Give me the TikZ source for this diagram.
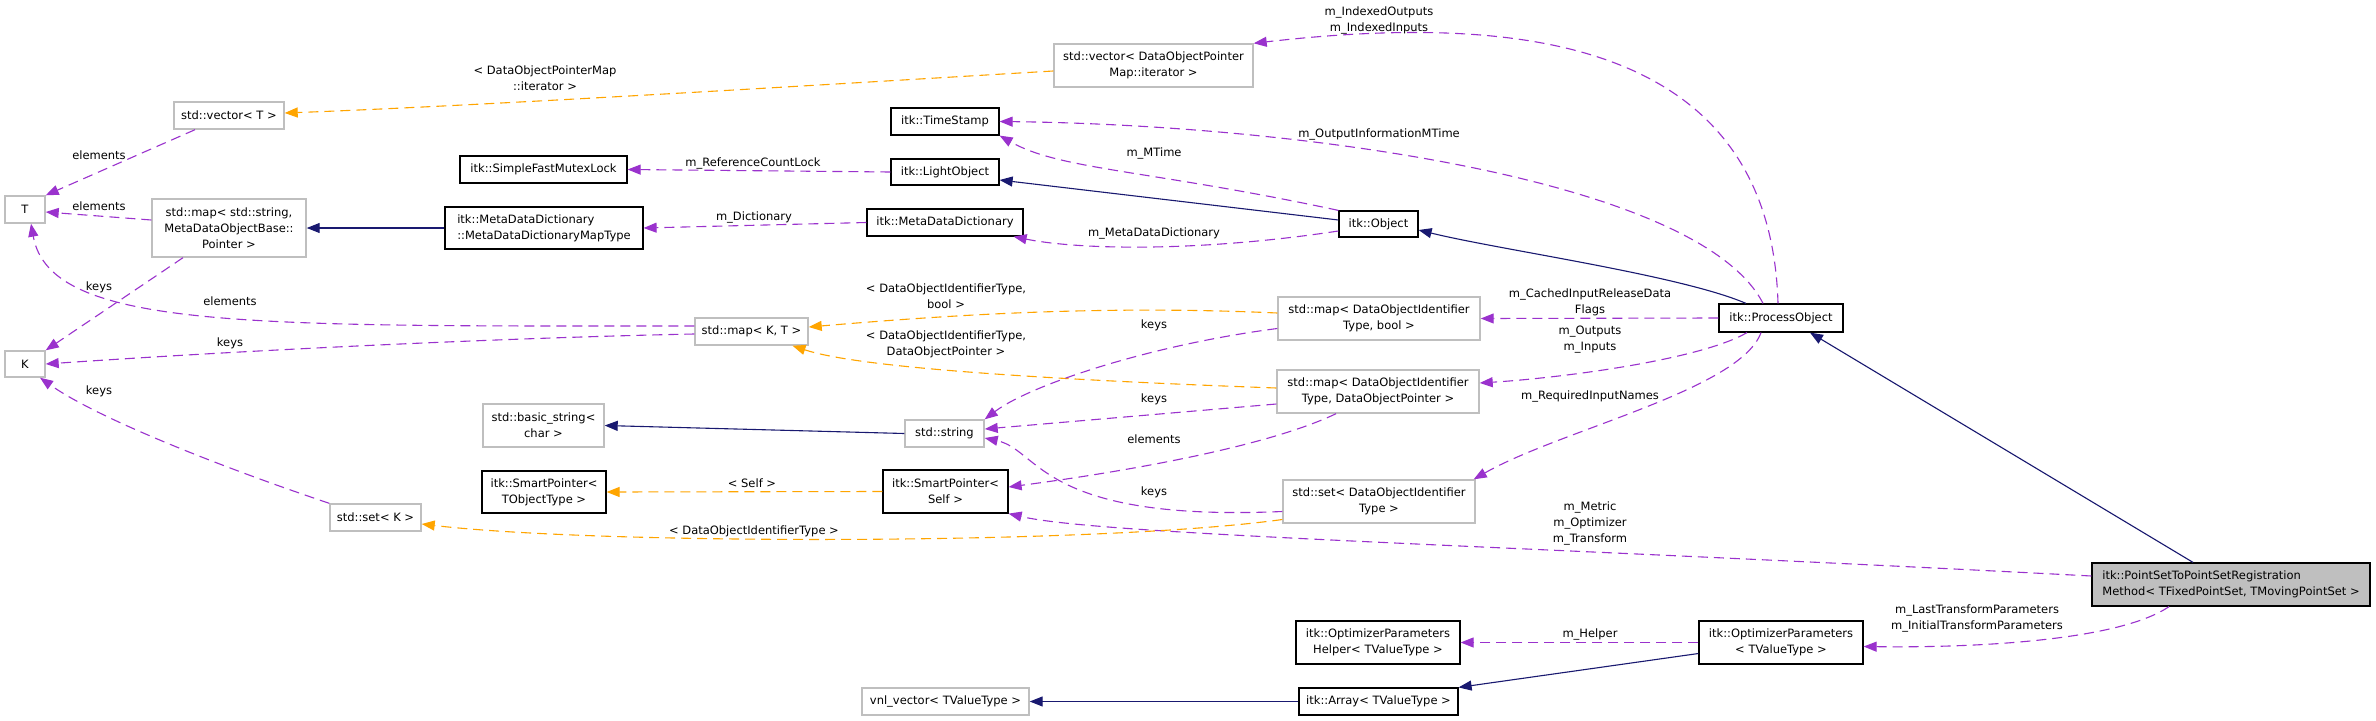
\documentclass[tikz,border=0pt]{standalone}
\usepackage{fontspec}
\setmainfont{DejaVu Sans}
\usetikzlibrary{arrows.meta}
\definecolor{pur}{HTML}{9A32CD}
\definecolor{org}{HTML}{FFA500}
\definecolor{nav}{HTML}{191970}
\definecolor{gry}{HTML}{BFBFBF}
\newcommand\dfnt{\fontsize{11.5}{16}\selectfont}
\tikzset{
  box/.style={draw=black, line width=1.2pt, fill=white, inner sep=0pt, align=center, font=\dfnt},
  gbox/.style={box, draw=gry, line width=1.4pt},
  lbl/.style={inner sep=0pt, align=center, font=\dfnt},
  tip/.style={-{Triangle[length=13pt,width=10pt]}},
  pe/.style={draw=pur, line width=1.1pt, dash pattern=on 10pt off 6pt, tip, pur},
  oe/.style={draw=org, line width=1.1pt, dash pattern=on 10pt off 6pt, tip, org},
  ne/.style={draw=nav, line width=1.1pt, tip, nav},
}
\begin{document}
\begin{tikzpicture}[x=1pt,y=-1pt]
\fill[white] (0,0) rectangle (2376,720);
\useasboundingbox (0,0) rectangle (2376,720);
% nodes
\node[gbox, minimum width=110, minimum height=27] (vecT) at (229,115.5) {std::vector< T >};
\node[box, minimum width=167, minimum height=27] (sfml) at (543.5,169.5) {itk::SimpleFastMutexLock};
\node[gbox, minimum width=40, minimum height=27] (T) at (25,209.5) {T};
\node[gbox, minimum width=154, minimum height=58] (mapstr) at (229,228) {std::map< std::string,\\MetaDataObjectBase::\\Pointer >};
\node[box, minimum width=198, minimum height=42, align=left] (mdmt) at (544,228) {itk::MetaDataDictionary\\::MetaDataDictionaryMapType};
\node[gbox, minimum width=40, minimum height=26] (K) at (25,364) {K};
\node[gbox, minimum width=91, minimum height=27] (setK) at (375.5,517.5) {std::set< K >};
\node[gbox, minimum width=121, minimum height=43] (bstr) at (543.5,425.5) {std::basic\_string<\\char >};
\node[box, minimum width=124, minimum height=42] (spT) at (544,492) {itk::SmartPointer<\\TObjectType >};
\node[gbox, minimum width=199, minimum height=43] (vecD) at (1153.5,65.5) {std::vector< DataObjectPointer\\Map::iterator >};
\node[box, minimum width=108, minimum height=27] (ts) at (945,121.5) {itk::TimeStamp};
\node[box, minimum width=108, minimum height=26] (lo) at (945,172) {itk::LightObject};
\node[box, minimum width=156, minimum height=27] (mdd) at (945,222.5) {itk::MetaDataDictionary};
\node[gbox, minimum width=113, minimum height=27] (mapKT) at (751.5,331.5) {std::map< K, T >};
\node[box, minimum width=79, minimum height=26] (obj) at (1378.5,224) {itk::Object};
\node[box, minimum width=124, minimum height=28] (po) at (1781,318) {itk::ProcessObject};
\node[gbox, minimum width=202, minimum height=43] (mapB) at (1379,318.5) {std::map< DataObjectIdentifier\\Type, bool >};
\node[gbox, minimum width=202, minimum height=43] (mapP) at (1378,391.5) {std::map< DataObjectIdentifier\\Type, DataObjectPointer >};
\node[gbox, minimum width=79, minimum height=27] (str) at (944.5,433.5) {std::string};
\node[box, minimum width=125, minimum height=43] (spS) at (945.5,491.5) {itk::SmartPointer<\\Self >};
\node[gbox, minimum width=192, minimum height=43] (setD) at (1379,501.5) {std::set< DataObjectIdentifier\\Type >};
\node[gbox, minimum width=167, minimum height=27] (vnl) at (945.5,701.5) {vnl\_vector< TValueType >};
\node[box, minimum width=164, minimum height=43] (oph) at (1378,642.5) {itk::OptimizerParameters\\Helper< TValueType >};
\node[box, minimum width=164, minimum height=43] (op) at (1781,642.5) {itk::OptimizerParameters\\< TValueType >};
\node[box, minimum width=159, minimum height=27] (arr) at (1378.5,701.5) {itk::Array< TValueType >};
\node[box, fill=gry, minimum width=278, minimum height=43, align=left] (psr) at (2231,584.5) {itk::PointSetToPointSetRegistration\\Method< TFixedPointSet, TMovingPointSet >};
% labels
\node[lbl] (l1) at (99,155) {elements};
\node[lbl] (l2) at (99,206) {elements};
\node[lbl] (l3) at (230,301) {elements};
\node[lbl] (l4) at (99,287) {keys};
\node[lbl] (l5) at (230,343) {keys};
\node[lbl] (l6) at (99,391) {keys};
\node[lbl] (l7) at (545,78.7) {< DataObjectPointerMap\\::iterator >};
\node[lbl] (l8) at (753,163) {m\_ReferenceCountLock};
\node[lbl] (l9) at (754,217) {m\_Dictionary};
\node[lbl] (l10) at (1154,153) {m\_MTime};
\node[lbl] (l11) at (1154,233) {m\_MetaDataDictionary};
\node[lbl] (l12) at (1379,134.7) {m\_OutputInformationMTime};
\node[lbl] (l13) at (1379,20.7) {m\_IndexedOutputs\\m\_IndexedInputs};
\node[lbl] (l14) at (1590,302.7) {m\_CachedInputReleaseData\\Flags};
\node[lbl] (l15) at (1590,339.7) {m\_Outputs\\m\_Inputs};
\node[lbl] (l16) at (1590,396) {m\_RequiredInputNames};
\node[lbl] (l17) at (1590,523.7) {m\_Metric\\m\_Optimizer\\m\_Transform};
\node[lbl] (l18) at (1977,618.7) {m\_LastTransformParameters\\m\_InitialTransformParameters};
\node[lbl] (l19) at (1590,634.7) {m\_Helper};
\node[lbl] (l20) at (752,483) {< Self >};
\node[lbl] (l21) at (754,531) {< DataObjectIdentifierType >};
\node[lbl] (l22) at (946,296.3) {< DataObjectIdentifierType,\\bool >};
\node[lbl] (l23) at (946,344.7) {< DataObjectIdentifierType,\\DataObjectPointer >};
\node[lbl] (l24) at (1154,325) {keys};
\node[lbl] (l25) at (1154,399) {keys};
\node[lbl] (l26) at (1154,439) {elements};
\node[lbl] (l27) at (1154,492) {keys};
% edges
\draw[pe] ([xshift=-34pt]vecT.south) -- (T.north east);
\draw[pe] ([yshift=8pt]mapstr.west) -- ([yshift=-2.5pt]T.east);
\draw[pe] ([yshift=5.5pt]mapKT.west) .. controls (250,326) and (50,330) .. ([xshift=6pt]T.south);
\draw[pe] ([xshift=-46pt]mapstr.south) -- (K.north east);
\draw[pe] ([yshift=-2.5pt]mapKT.west) .. controls (500,338) and (250,350) .. (K.east);
\draw[pe] (setK.north west) .. controls (230,470) and (100,420) .. ([xshift=15pt]K.south);
\draw[oe] ([yshift=-5.5pt]vecD.west) .. controls (900,80) and (500,105) .. ([yshift=2.5pt]vecT.east);
\draw[pe] (lo.west) -- (sfml.east);
\draw[pe] (mdd.west) -- (mdmt.east);
\draw[ne] (mdmt.west) -- (mapstr.east);
\draw[ne] ([yshift=4pt]obj.west) -- ([yshift=-8pt]lo.east);
\draw[pe] (obj.north west) .. controls (1150,170) and (1060,170) .. (ts.south east);
\draw[pe] ([yshift=-7pt]obj.west) .. controls (1200,252) and (1080,250) .. ([xshift=-10pt]mdd.south east);
\draw[ne] ([xshift=-35pt]po.north) .. controls (1680,275) and (1500,250) .. ([yshift=-6pt]obj.east);
\draw[pe] ([xshift=-18pt]po.north) .. controls (1700,180) and (1300,125) .. (ts.east);
\draw[pe] ([xshift=-3pt]po.north) .. controls (1770,30) and (1500,15) .. (vecD.north east);
\draw[pe] (po.west) -- (mapB.east);
\draw[pe] ([xshift=-34pt]po.south) .. controls (1700,360) and (1560,378) .. ([yshift=8.5pt]mapP.east);
\draw[pe] ([xshift=-20pt]po.south) .. controls (1740,390) and (1560,430) .. ([xshift=-2pt]setD.north east);
\draw[ne] ([xshift=-38pt]psr.north) -- ([xshift=29pt]po.south);
\draw[pe] ([yshift=8.5pt]psr.west) .. controls (1500,545) and (1100,535) .. (spS.south east);
\draw[pe] ([xshift=-62pt]psr.south) .. controls (2120,640) and (1980,648) .. ([yshift=-4pt]op.east);
\draw[pe] (op.west) -- (oph.east);
\draw[ne] ([yshift=-11pt]op.west) -- (arr.north east);
\draw[ne] (arr.west) -- (vnl.east);
\draw[ne] (str.west) -- (bstr.east);
\draw[oe] (spS.west) -- (spT.east);
\draw[oe] ([yshift=-18pt]setD.west) .. controls (1100,545) and (600,545) .. ([yshift=-6.5pt]setK.east);
\draw[oe] ([yshift=5.5pt]mapB.west) .. controls (1100,305) and (950,315) .. ([yshift=4.5pt]mapKT.east);
\draw[oe] ([yshift=3.5pt]mapP.west) .. controls (1000,378) and (850,365) .. ([xshift=41pt]mapKT.south);
\draw[pe] ([yshift=-10pt]mapB.west) .. controls (1150,345) and (1030,385) .. (str.north east);
\draw[pe] ([yshift=-12.5pt]mapP.west) -- ([yshift=4.5pt]str.east);
\draw[pe] ([xshift=-42pt]mapP.south) .. controls (1260,450) and (1100,475) .. ([yshift=4.5pt]spS.east);
\draw[pe] ([yshift=-10pt]setD.west) .. controls (1040,522) and (1040,450) .. ([yshift=-4.5pt]str.east);
\end{tikzpicture}
\end{document}
